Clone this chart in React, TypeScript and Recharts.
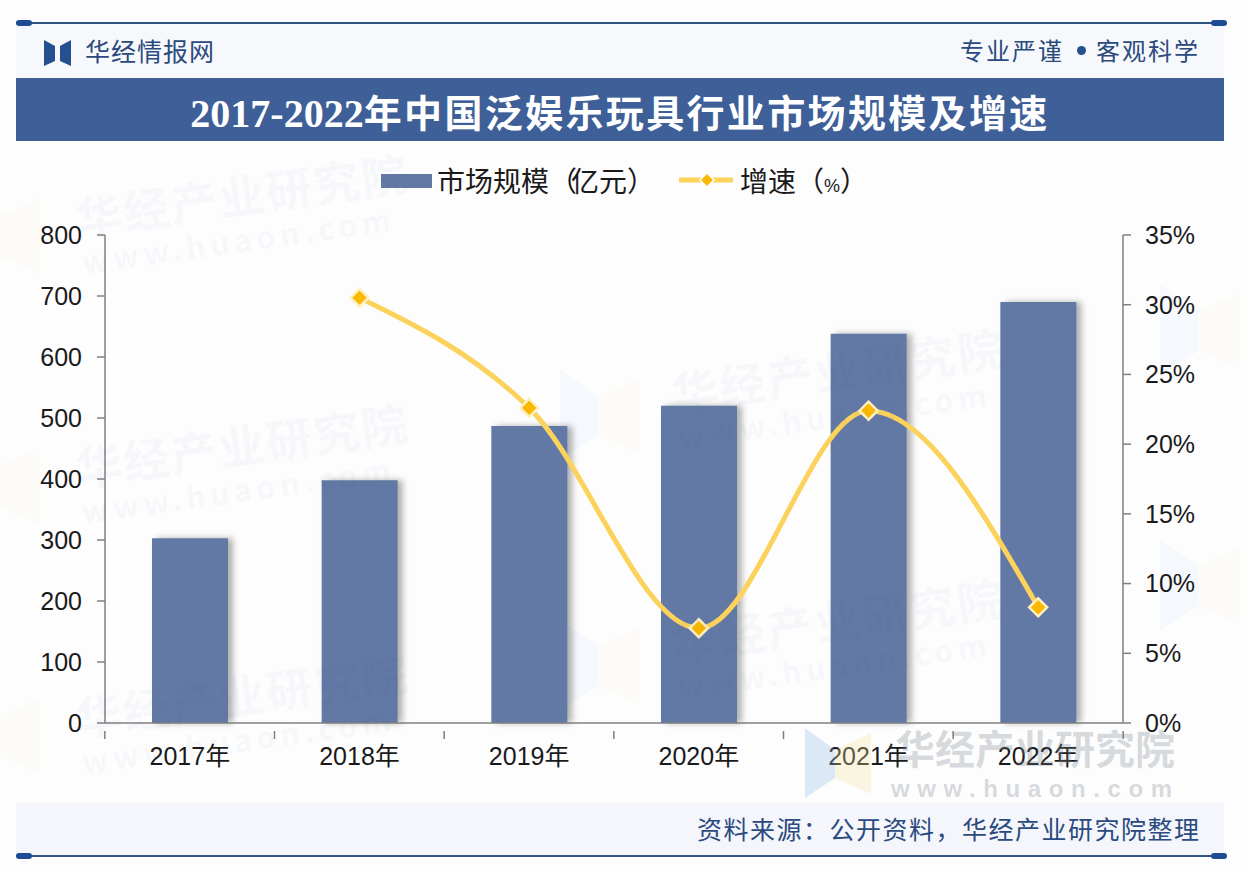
import { Bar, ComposedChart, Line, XAxis, YAxis } from "recharts";

const years = ["2017年", "2018年", "2019年", "2020年", "2021年", "2022年"];
const marketSize = [303, 398, 487, 520, 638, 690];
const growth = [null, 30.5, 22.6, 6.8, 22.4, 8.3];
const sizeTicks = [0, 100, 200, 300, 400, 500, 600, 700, 800];
const growthTicks = [0, 5, 10, 15, 20, 25, 30, 35];

const chartData = years.map((year, i) => ({ year, size: marketSize[i], growth: growth[i] }));

const sans = '"Noto Sans CJK SC", "Noto Sans", sans-serif';
const axisFont = '"Liberation Sans", "Noto Sans CJK SC", sans-serif';
const navy = "#2b4a7e";

// ticks sit on the band edges, labels in the band middle
const YearTick = ({ x, y, payload, index }: any) => {
  const half = 85;
  return (
    <g>
      <line x1={x - half} x2={x - half} y1={y} y2={y + 8} stroke="#7f7f7f" strokeWidth={1.5} />
      {index === years.length - 1 && (
        <line x1={x + half} x2={x + half} y1={y} y2={y + 8} stroke="#7f7f7f" strokeWidth={1.5} />
      )}
      <text x={x} y={y + 41} dy={-7} textAnchor="middle" fontSize={25} fontFamily={axisFont} fill="#1a1a1a">
        {payload.value}
      </text>
    </g>
  );
};

const DiamondDot = ({ cx, cy, payload }: any) => {
  if (payload.growth == null) return null;
  return (
    <polygon
      points={`${cx},${cy - 9} ${cx + 9},${cy} ${cx},${cy + 9} ${cx - 9},${cy}`}
      fill="#fbb800"
      stroke="#fff0c2"
      strokeWidth={2.5}
    />
  );
};

const Watermark = ({ x, y, rotate = -8, opacity = 0.028 }: any) => (
  <div
    style={{
      position: "absolute",
      left: x,
      top: y,
      opacity,
      color: "#2b4a7e",
      fontFamily: sans,
      transform: `rotate(${rotate}deg)`,
      transformOrigin: "left top",
      whiteSpace: "nowrap",
    }}
  >
    <div style={{ fontSize: 46, fontWeight: 700, letterSpacing: 2, lineHeight: "54px" }}>华经产业研究院</div>
    <div style={{ fontSize: 30, fontWeight: 700, letterSpacing: 5, lineHeight: "36px" }}>www.huaon.com</div>
  </div>
);

const WatermarkLogo = ({ x, y, opacity = 0.045 }: any) => (
  <svg style={{ position: "absolute", left: x, top: y, opacity }} width={80} height={90}>
    <polygon points="0,0 38,26 38,66 0,90" fill="#5b9be0" />
    <polygon points="80,8 38,26 38,66 80,84" fill="#f2d46a" />
  </svg>
);

const Band = ({ style }: any) => <div style={{ position: "absolute", ...style }} />;

export default function App() {
  return (
    <div style={{ position: "absolute", left: 0, top: 0, width: 1248, height: 872, background: "#fdfdfe", overflow: "hidden" }}>
      <Band style={{ left: 16, top: 24, width: 1208, height: 54, background: "#f6f8fc" }} />
      <Band style={{ left: 16, top: 78, width: 1208, height: 63, background: "#3e5f98" }} />
      <Band style={{ left: 16, top: 803, width: 1208, height: 53, background: "#f4f6fb" }} />
      <Band style={{ left: 16, top: 22, width: 1208, height: 2, background: "#2f5480" }} />
      <Band style={{ left: 16, top: 855, width: 1208, height: 2, background: "#2f5480" }} />
      <Band style={{ left: 16, top: 20, width: 16, height: 6, borderRadius: 3, background: "#1f4a94" }} />
      <Band style={{ left: 1211, top: 20, width: 16, height: 6, borderRadius: 3, background: "#1f4a94" }} />
      <Band style={{ left: 16, top: 853, width: 16, height: 6, borderRadius: 3, background: "#1f4a94" }} />
      <Band style={{ left: 1211, top: 853, width: 16, height: 6, borderRadius: 3, background: "#1f4a94" }} />

      <WatermarkLogo x={-40} y={190} />
      <WatermarkLogo x={-40} y={440} />
      <WatermarkLogo x={-40} y={690} />
      <WatermarkLogo x={560} y={370} />
      <WatermarkLogo x={560} y={620} />
      <WatermarkLogo x={1160} y={285} />
      <WatermarkLogo x={1160} y={540} />

      {/* logo */}
      <svg style={{ position: "absolute", left: 44, top: 40 }} width={27} height={26}>
        <polygon points="0,0 11,6 11,21 0,26" fill="#24508f" />
        <polygon points="27,0 16,6 16,21 27,26" fill="#24508f" />
      </svg>
      <div style={{ position: "absolute", left: 85, top: 32, fontFamily: sans, fontSize: 25, letterSpacing: 1, lineHeight: "36px", color: navy }}>
        华经情报网
      </div>
      <div style={{ position: "absolute", left: 960, top: 32, width: 240, fontFamily: sans, fontSize: 24, letterSpacing: 2, lineHeight: "36px", color: navy, whiteSpace: "nowrap" }}>
        专业严谨
      </div>
      <Band style={{ left: 1077, top: 46, width: 9, height: 9, borderRadius: 5, background: "#24508f" }} />
      <div style={{ position: "absolute", left: 1096, top: 32, fontFamily: sans, fontSize: 24, letterSpacing: 2, lineHeight: "36px", color: navy, whiteSpace: "nowrap" }}>
        客观科学
      </div>

      {/* title */}
      <div style={{ position: "absolute", left: 16, top: 78, width: 1208, height: 63, lineHeight: "66px", textAlign: "center", color: "#fff", fontWeight: 700, whiteSpace: "nowrap" }}>
        <span style={{ fontFamily: '"Liberation Serif", serif', fontSize: 40 }}>2017-2022</span>
        <span style={{ fontFamily: sans, fontSize: 38, letterSpacing: 2.35 }}>年中国泛娱乐玩具行业市场规模及增速</span>
      </div>

      {/* legend */}
      <Band style={{ left: 381, top: 174, width: 51, height: 14, background: "#6279a5" }} />
      <div style={{ position: "absolute", left: 437, top: 160, fontFamily: sans, fontSize: 28, lineHeight: "40px", color: "#1a1a1a", whiteSpace: "nowrap" }}>
        市场规模<span style={{ letterSpacing: -6 }}>{"\uFF08"}</span>亿元{"\uFF09"}
      </div>
      <svg style={{ position: "absolute", left: 679, top: 170 }} width={56} height={20}>
        <line x1={0} x2={54} y1={10} y2={10} stroke="#fdd35a" strokeWidth={5} />
        <polygon points="28,3 35,10 28,17 21,10" fill="#fbb800" stroke="#fff" strokeWidth={1.5} />
      </svg>
      <div style={{ position: "absolute", left: 740, top: 160, fontFamily: sans, fontSize: 28, lineHeight: "40px", color: "#1a1a1a", whiteSpace: "nowrap" }}>
        增速{"\uFF08"}<span style={{ fontFamily: axisFont, fontSize: 18 }}>%</span>{"\uFF09"}
      </div>

      <div style={{ position: "absolute", left: 0, top: 0 }}>
        <ComposedChart
          width={1248}
          height={872}
          data={chartData}
          margin={{ top: 235, right: 65, bottom: 99, left: 45 }}
          barCategoryGap={47}
        >
          <XAxis
            dataKey="year"
            height={50}
            interval={0}
            axisLine={{ stroke: "#7f7f7f", strokeWidth: 1.5 }}
            tickLine={false}
            tick={<YearTick />}
          />
          <YAxis
            yAxisId="left"
            width={60}
            domain={[0, 800]}
            ticks={sizeTicks}
            interval={0}
            axisLine={{ stroke: "#7f7f7f", strokeWidth: 1.5 }}
            tickLine={{ stroke: "#7f7f7f", strokeWidth: 1.5 }}
            tickSize={8}
            tickMargin={15}
            tick={{ fontSize: 25, fontFamily: axisFont, fill: "#1a1a1a" }}
          />
          <YAxis
            yAxisId="right"
            orientation="right"
            width={60}
            domain={[0, 35]}
            ticks={growthTicks}
            interval={0}
            tickFormatter={(v: number) => `${v}%`}
            axisLine={{ stroke: "#7f7f7f", strokeWidth: 1.5 }}
            tickLine={{ stroke: "#7f7f7f", strokeWidth: 1.5 }}
            tickSize={8}
            tickMargin={14}
            tick={{ fontSize: 25, fontFamily: axisFont, fill: "#1a1a1a" }}
          />
          <Bar
            yAxisId="left"
            dataKey="size"
            barSize={76}
            fill="#6279a5"
            style={{ filter: "drop-shadow(5px 0px 3px rgba(0,0,0,0.3))" }}
            isAnimationActive={false}
          />
          <Line
            yAxisId="right"
            type="monotone"
            dataKey="growth"
            stroke="#fbd35c"
            strokeWidth={5}
            dot={<DiamondDot />}
            activeDot={false}
            connectNulls={false}
            isAnimationActive={false}
          />
        </ComposedChart>
      </div>

      {/* footer */}
      <div style={{ position: "absolute", left: 697, top: 808, fontFamily: sans, fontSize: 25, letterSpacing: 1.5, lineHeight: "40px", color: navy, whiteSpace: "nowrap" }}>
        {"资料来源\uFF1A公开资料\uFF0C华经产业研究院整理"}
      </div>

      {/* watermarks */}
      <Watermark x={72} y={190} />
      <Watermark x={72} y={440} />
      <Watermark x={72} y={690} />
      <Watermark x={668} y={365} />
      <Watermark x={668} y={615} />
      <svg style={{ position: "absolute", left: 805, top: 728, opacity: 0.3 }} width={66} height={70}>
        <polygon points="0,0 30,22 30,50 0,70" fill="#8fbdea" />
        <polygon points="66,5 30,22 30,50 66,66" fill="#f6e3a0" />
      </svg>
      <div style={{ position: "absolute", left: 895, top: 719, fontFamily: sans, fontWeight: 700, fontSize: 40, lineHeight: "56px", color: "rgba(120,130,140,0.3)", whiteSpace: "nowrap" }}>
        华经产业研究院
      </div>
      <div style={{ position: "absolute", left: 891, top: 772, fontFamily: axisFont, fontWeight: 700, fontSize: 24, letterSpacing: 7.6, lineHeight: "34px", color: "rgba(120,130,140,0.3)", whiteSpace: "nowrap" }}>
        www.huaon.com
      </div>
    </div>
  );
}
